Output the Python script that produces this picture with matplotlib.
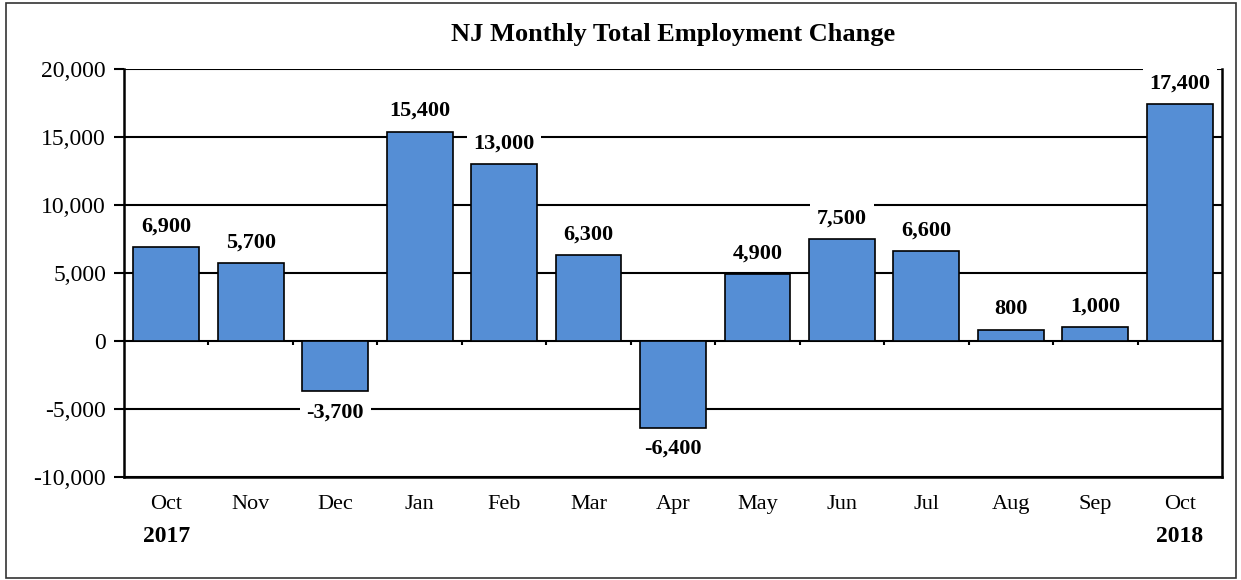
import matplotlib
matplotlib.use("Agg")
import matplotlib.pyplot as plt
import numpy as np
from matplotlib.patches import Rectangle

months = ["Oct", "Nov", "Dec", "Jan", "Feb", "Mar", "Apr", "May", "Jun", "Jul", "Aug", "Sep", "Oct"]
values = [6900, 5700, -3700, 15400, 13000, 6300, -6400, 4900, 7500, 6600, 800, 1000, 17400]
years = {0: "2017", 12: "2018"}
title = "NJ Monthly Total Employment Change"
yticks = [-10000, -5000, 0, 5000, 10000, 15000, 20000]

plt.rcParams['font.family'] = ['Liberation Serif', 'DejaVu Serif']

W, H = 1241, 580
fig = plt.figure(figsize=(W / 100, H / 100), dpi=100)
fig.patches.append(Rectangle((6 / W, 2 / H), (1236 - 6) / W, (577 - 2) / H,
                             transform=fig.transFigure, fill=False,
                             edgecolor='#333333', linewidth=1.2))

ax = fig.add_axes([124 / W, 1 - 477 / H, (1222 - 124) / W, (477 - 69) / H])
x = np.arange(len(months))
ax.bar(x, values, width=0.78, color='#558ed5', edgecolor='black', linewidth=1.2, zorder=3)

ax.set_ylim(-10000, 20000)
ax.set_xlim(-0.5, len(months) - 0.5)
ax.set_yticks(yticks)
ax.set_yticklabels([f"{v:,}" for v in yticks], fontsize=17)
ax.yaxis.grid(True, color='black', linewidth=1.5, zorder=0)
ax.set_axisbelow(True)
ax.tick_params(axis='y', length=7, width=1.5, direction='out', pad=6)

ax.set_xticks(x)
ax.set_xticklabels(months, fontsize=16)
ax.tick_params(axis='x', length=0, pad=13)

for s in ['left', 'bottom', 'right']:
    ax.spines[s].set_linewidth(1.8)
ax.spines['top'].set_visible(False)

# small category-boundary ticks on the zero line
ax.vlines(x[:-1] + 0.5, 0, -300, colors='black', linewidth=1.5, zorder=2)

for xi, v in zip(x, values):
    off = 15 if v >= 0 else -15
    ax.annotate(f"{v:,}", (xi, v), xytext=(0, off), textcoords='offset points',
                ha='center', va='center', fontsize=16, fontweight='bold', zorder=5,
                bbox=dict(boxstyle='square,pad=0.3', fc='white', ec='none'))

for i, yr in years.items():
    ax.annotate(yr, (i, 0), xycoords=('data', 'axes fraction'), xytext=(0, -43),
                textcoords='offset points', ha='center', va='center',
                fontsize=17, fontweight='bold')

fig.text((124 + 1222) / 2 / W, 1 - 35 / H, title, ha='center', va='center',
         fontsize=19, fontweight='bold')

fig.savefig("out.png", dpi=100)
